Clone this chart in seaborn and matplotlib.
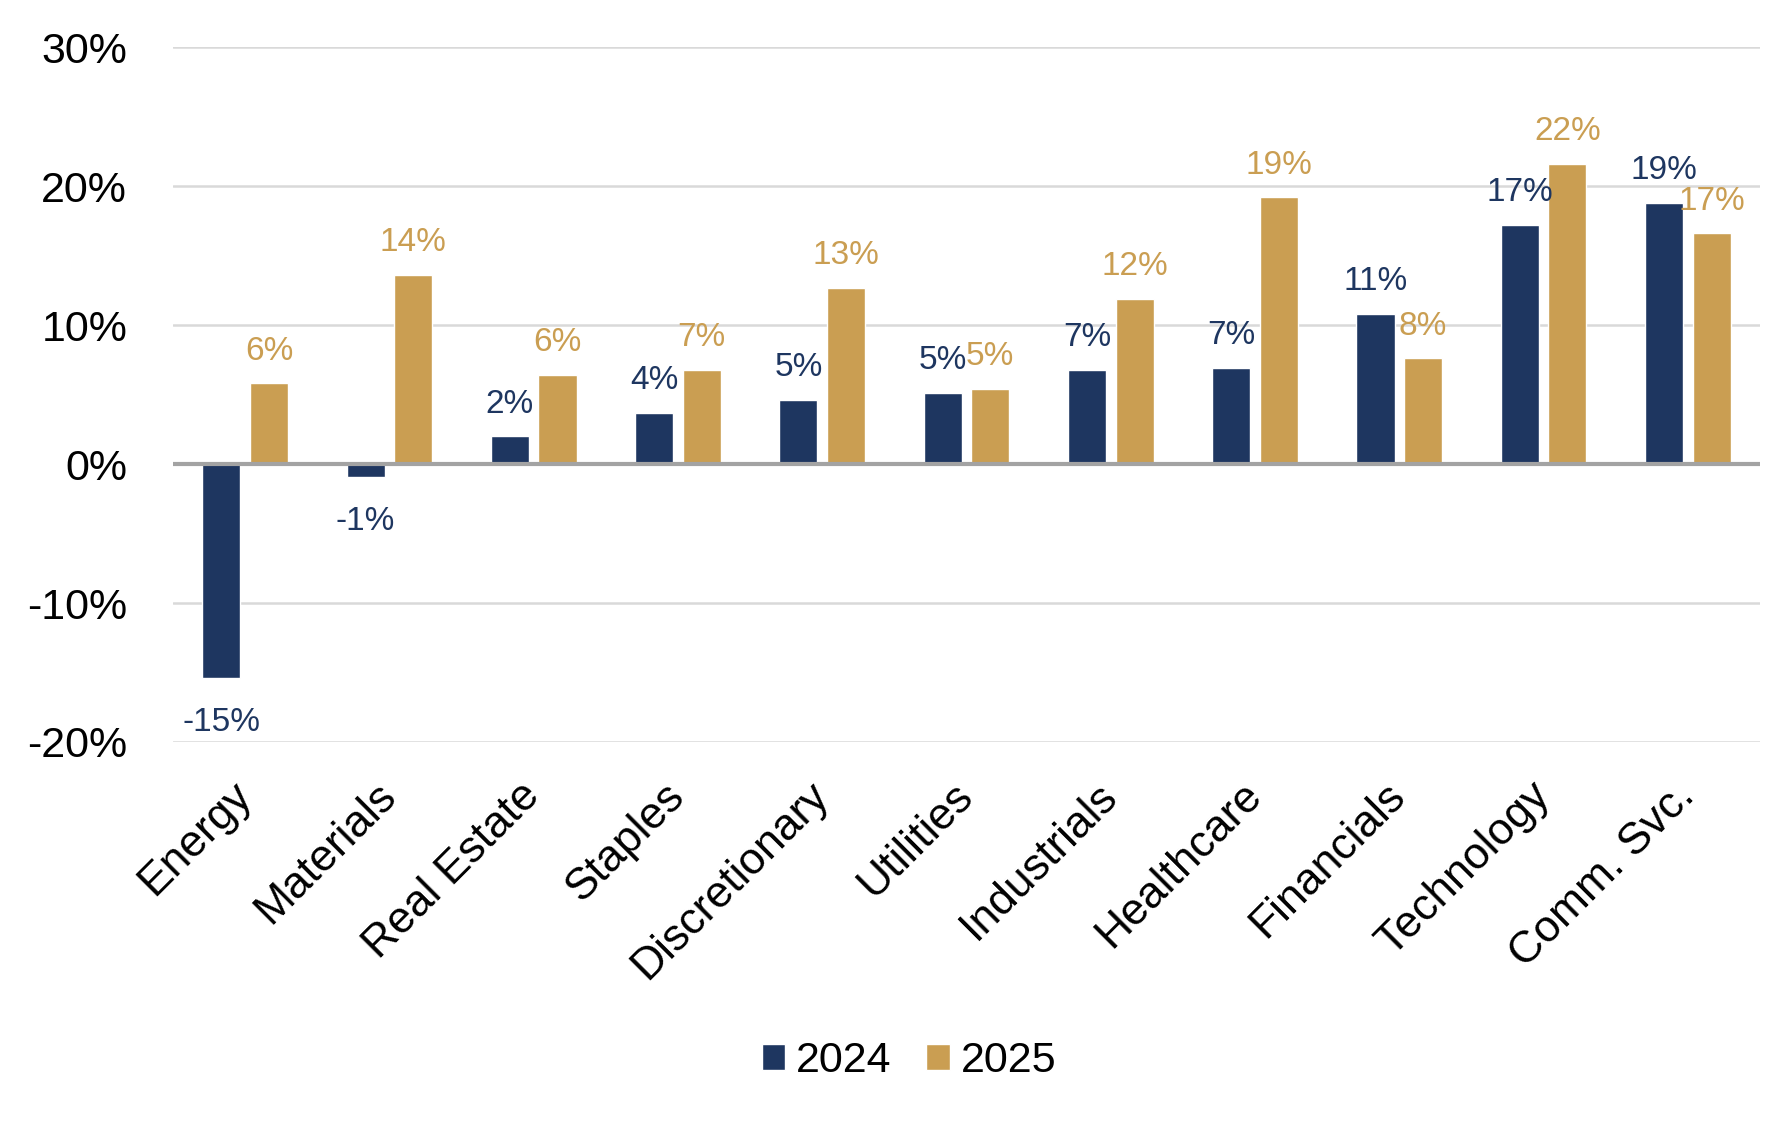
import seaborn as sns
import matplotlib.pyplot as plt
import pandas as pd

# sector returns (fractions)
sectors = ['Energy', 'Materials', 'Real Estate', 'Staples', 'Discretionary', 'Utilities',
           'Industrials', 'Healthcare', 'Financials', 'Technology', 'Comm. Svc.']
ret_2024 = [-0.154, -0.009, 0.020, 0.037, 0.046, 0.051, 0.068, 0.069, 0.108, 0.172, 0.188]
ret_2025 = [0.058, 0.136, 0.064, 0.068, 0.127, 0.054, 0.119, 0.192, 0.076, 0.216, 0.166]
years = ['2024', '2025']
y_ticks = [-0.2, -0.1, 0.0, 0.1, 0.2, 0.3]

navy = '#1E3660'
gold = '#CA9E52'

df = pd.DataFrame({
    'sector': sectors * 2,
    'year': [years[0]] * len(sectors) + [years[1]] * len(sectors),
    'ret': ret_2024 + ret_2025,
})

sns.set_style('white')
plt.rcParams['font.family'] = ['Liberation Sans', 'DejaVu Sans']

fig = plt.figure(figsize=(17.89, 11.22), dpi=100)
ax = fig.add_axes([0.0967, 0.3387, 0.8871, 0.6193])

sns.barplot(data=df, x='sector', y='ret', hue='year', palette=[navy, gold],
            saturation=1, width=0.66, gap=0.2, ax=ax, zorder=2)

for cont, col in zip(ax.containers, [navy, gold]):
    anns = ax.bar_label(cont, labels=[f'{v * 100:.0f}%' for v in cont.datavalues],
                        padding=12, fontsize=24, color=col)
    # labels under negative bars sit a little further down
    for ann, v in zip(anns, cont.datavalues):
        if v < 0:
            ann.xyann = (0, -21)

ax.set_ylim(-0.2, 0.3)
ax.set_yticks(y_ticks)
ax.set_yticklabels([f'{t * 100:.0f}%' for t in y_ticks])
ax.set_xlim(-0.5, len(sectors) - 0.5)
ax.yaxis.grid(True, color='#D9D9D9', lw=1.8, zorder=0)
ax.set_axisbelow(True)
ax.axhline(0, color='#A3A3A3', lw=3, zorder=3)
for s in ax.spines.values():
    s.set_visible(False)

ax.tick_params(axis='y', length=0, labelsize=31, pad=33, labelcolor='black')
ax.tick_params(axis='x', length=0, labelsize=32, pad=34, labelcolor='black')
plt.setp(ax.get_xticklabels(), rotation=45, ha='right', va='center', rotation_mode='anchor')
ax.set_xlabel('')
ax.set_ylabel('')

handles, labels = ax.get_legend_handles_labels()
ax.get_legend().remove()
fig.legend(handles, labels, loc='center', bbox_to_anchor=(0.508, 0.054), ncol=2,
           frameon=False, fontsize=31, handlelength=0.55, handleheight=0.55,
           handletextpad=0.25, columnspacing=0.8, labelcolor='black')

fig.savefig('out.png', dpi=100)
